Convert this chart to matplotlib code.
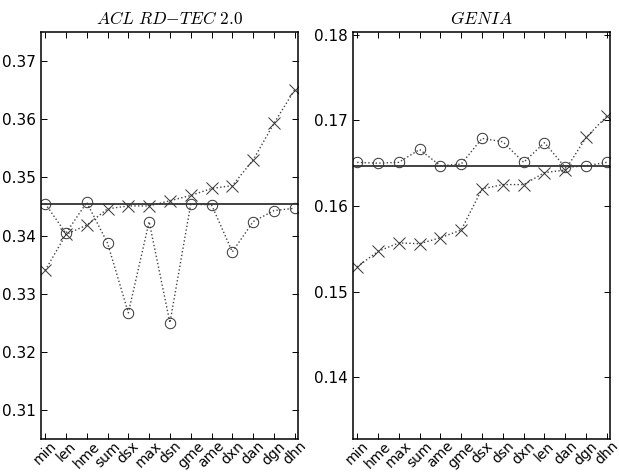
import matplotlib.pyplot as plt

plt.rcParams['mathtext.fontset'] = 'cm'

# ACL RD-TEC 2.0
acl_labels = ['min', 'len', 'hme', 'sum', 'dsx', 'max', 'dsn', 'gme', 'ame', 'dxn', 'dan', 'dgn', 'dhn']
acl_cross = [0.3340, 0.3402, 0.3418, 0.3446, 0.3451, 0.3451, 0.3460, 0.3469, 0.3481, 0.3486, 0.3530, 0.3593, 0.3651]
acl_circle = [0.3455, 0.3404, 0.3457, 0.3387, 0.3267, 0.3424, 0.3250, 0.3454, 0.3453, 0.3372, 0.3424, 0.3443, 0.3447]
acl_base = 0.3455

# GENIA
genia_labels = ['min', 'hme', 'max', 'sum', 'ame', 'gme', 'dsx', 'dsn', 'dxn', 'len', 'dan', 'dgn', 'dhn']
genia_cross = [0.1529, 0.1547, 0.1557, 0.1556, 0.1563, 0.1572, 0.1620, 0.1625, 0.1625, 0.1639, 0.1642, 0.1680, 0.1705]
genia_circle = [0.1651, 0.1650, 0.1651, 0.1666, 0.1647, 0.1649, 0.1679, 0.1675, 0.1651, 0.1674, 0.1645, 0.1647, 0.1651]
genia_base = 0.1647


def panel(ax, labels, cross, circle, base, title, ylim, yticks):
    x = range(len(labels))
    ax.plot(x, cross, ls=':', color='#444444', lw=1.0, marker='x', markersize=8,
            mew=0.7, mec='#333333')
    ax.plot(x, circle, ls=':', color='#444444', lw=1.0, marker='o', markersize=7.5,
            mfc='none', mew=0.7, mec='#333333')
    ax.axhline(base, color='#333333', lw=1.3)
    ax.set_xlim(-0.2, 12.15)
    ax.set_ylim(*ylim)
    ax.set_yticks(yticks)
    ax.set_xticks(list(x))
    ax.set_xticklabels(labels, rotation=45, fontsize=10)
    ax.tick_params(axis='y', labelsize=11)
    ax.tick_params(axis='x', pad=0)
    ax.tick_params(direction='in', top=True, right=True, length=4, width=0.7)
    ax.set_title(title, fontsize=12.5)
    for s in ax.spines.values():
        s.set_linewidth(1.1)


fig = plt.figure(figsize=(6.19, 4.72), dpi=100)
ax1 = fig.add_axes([0.0662, 0.0699, 0.415, 0.862])
ax2 = fig.add_axes([0.5703, 0.0699, 0.4152, 0.862])

panel(ax1, acl_labels, acl_cross, acl_circle, acl_base, r'$ACL\ RD{-}TEC\ 2.0$',
      (0.305, 0.375), [0.31, 0.32, 0.33, 0.34, 0.35, 0.36, 0.37])
panel(ax2, genia_labels, genia_cross, genia_circle, genia_base, r'$GENIA$',
      (0.1328, 0.1803), [0.14, 0.15, 0.16, 0.17, 0.18])

fig.savefig('out.png', dpi=100)
